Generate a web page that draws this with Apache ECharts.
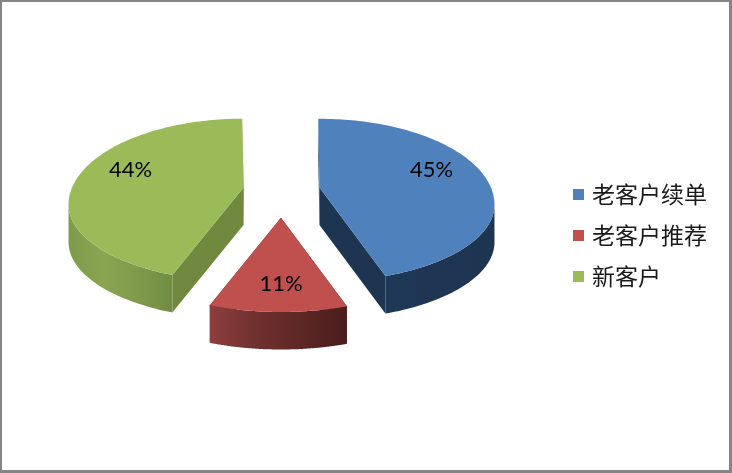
<!DOCTYPE html>
<html>
<head>
<meta charset="utf-8">
<style>html,body{margin:0;padding:0;background:#fff}#c{width:732px;height:473px}</style>
<script src="https://cdn.jsdelivr.net/npm/echarts@6/dist/echarts.min.js"></script>
</head>
<body>
<div id="c"></div>
<script>
var categories = ['老客户续单', '老客户推荐', '新客户'];
var values = [45.1, 10.51, 44.39];

var topColors = ['#4f81bd', '#c0504d', '#9bbb59'];
var cutColors = ['#1e3552', '#6e2c2a', '#71893f'];
var wallStops = [
  ['#1f3857', '#1e3654', '#1e3552'],
  ['#8c3e3c', '#6f302e', '#4a1d1c'],
  ['#7d9b49', '#8aa653', '#728d42']
];
var labelOffset = [[112, -35], [0, 49], [-113, -35]];

var pie = {
  cx: 281.5, cy: 209, rx: 175, ryBack: 86, ryFront: 77,
  tilt: 0.2, depth: 37.5, startDeg: -0.5, explodeX: 38.5, explodeY: 26
};

var total = values.reduce(function (a, b) { return a + b; }, 0);

function project(deg) {
  var t = deg * Math.PI / 180, u = Math.sin(t), v = -Math.cos(t), a = pie.tilt;
  var d = 1 - a * v;
  var X = u * Math.sqrt(1 - a * a) / d, Y = (v - a) / d;
  return [pie.rx * X, (Y < 0 ? pie.ryBack : pie.ryFront) * Y, Y];
}

function sliceRange(i) {
  var before = 0;
  for (var k = 0; k < i; k++) before += values[k];
  var s = pie.startDeg + before / total * 360;
  return [s, s + values[i] / total * 360];
}

function renderSlice(i) {
  return function () {
    var r = sliceRange(i), mid = (r[0] + r[1]) / 2 * Math.PI / 180;
    var ox = pie.cx + pie.explodeX * Math.sin(mid);
    var oy = pie.cy - pie.explodeY * Math.cos(mid);
    var arc = [], N = 120;
    for (var k = 0; k <= N; k++) {
      var p = project(r[0] + (r[1] - r[0]) * k / N);
      arc.push([ox + p[0], oy + p[1], p[2]]);
    }
    var apex = [ox, oy - pie.tilt * pie.ryBack];
    var D = pie.depth;
    function down(q) { return [q[0], q[1] + D]; }
    var children = [];

    // cut walls
    [arc[0], arc[N]].forEach(function (e) {
      children.push({
        type: 'polygon',
        shape: { points: [apex, [e[0], e[1]], down(e), down(apex)] },
        style: { fill: cutColors[i] }
      });
    });

    // outer wall: only the front part of the rim
    var front = arc.filter(function (q) { return q[2] >= 0; });
    if (front.length > 1) {
      var pts = front.map(function (q) { return [q[0], q[1]]; })
        .concat(front.slice().reverse().map(down));
      children.push({
        type: 'polygon',
        shape: { points: pts },
        style: {
          fill: new echarts.graphic.LinearGradient(0, 0, 1, 0, [
            { offset: 0, color: wallStops[i][0] },
            { offset: 0.35, color: wallStops[i][1] },
            { offset: 1, color: wallStops[i][2] }
          ])
        }
      });
    }

    // top face
    children.push({
      type: 'polygon',
      shape: { points: [apex].concat(arc.map(function (q) { return [q[0], q[1]]; })) },
      style: { fill: topColors[i] }
    });

    // value label
    children.push({
      type: 'text',
      style: {
        x: ox + labelOffset[i][0],
        y: oy + labelOffset[i][1],
        text: Math.round(values[i] / total * 100) + '%',
        fill: '#000',
        font: '22px Lato, "Open Sans", sans-serif',
        align: 'center',
        verticalAlign: 'middle'
      }
    });
    return { type: 'group', children: children };
  };
}

var chart = echarts.init(document.getElementById('c'));
chart.setOption({
  animation: false,
  backgroundColor: '#fff',
  graphic: [
    { type: 'rect', z: -10, shape: { x: 0, y: 0, width: 732, height: 473 }, style: { fill: '#858585' } },
    { type: 'rect', z: -9, shape: { x: 2, y: 2, width: 727, height: 468 }, style: { fill: '#ffffff' } }
  ],
  legend: {
    orient: 'vertical',
    left: 568,
    top: 178,
    icon: 'rect',
    itemWidth: 11,
    itemHeight: 11,
    itemGap: 18,
    data: categories,
    textStyle: { fontSize: 23, color: '#1a1a1a', fontFamily: '"Noto Sans CJK SC", sans-serif', padding: [0, 0, 0, 3] }
  },
  series: categories.map(function (name, i) {
    return {
      type: 'custom',
      name: name,
      coordinateSystem: 'none',
      silent: true,
      itemStyle: { color: topColors[i] },
      data: [[values[i]]],
      renderItem: renderSlice(i)
    };
  })
});
</script>
</body>
</html>
